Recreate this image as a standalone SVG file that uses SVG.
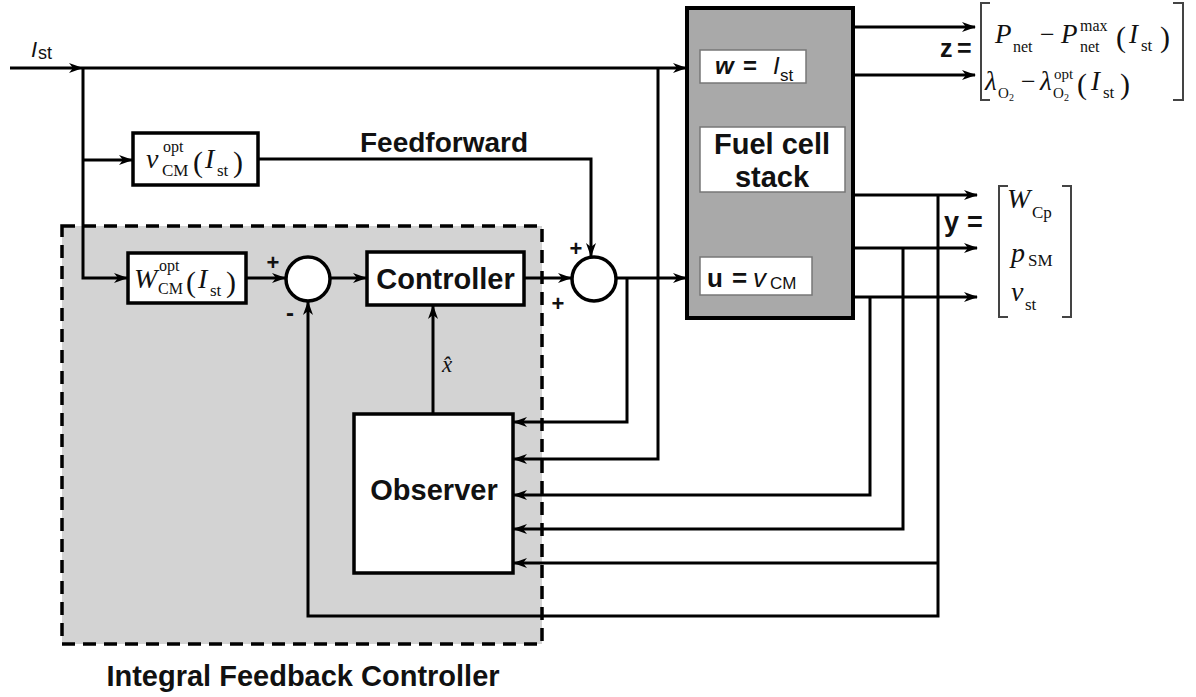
<svg xmlns="http://www.w3.org/2000/svg" width="1196" height="697" viewBox="0 0 1196 697">
<style>
.ln{fill:none;stroke:#000;stroke-width:3;}
.ar{marker-end:url(#ah);}
.box{fill:#fff;stroke:#000;stroke-width:3.5;}
.ibox{fill:#fff;stroke:#777;stroke-width:1.5;}
.b{font-family:"Liberation Sans",Arial,sans-serif;font-weight:bold;fill:#111;}
.s{font-family:"Liberation Sans",Arial,sans-serif;fill:#111;}
.m{font-family:"Liberation Serif","Times New Roman",serif;font-style:italic;fill:#111;}
.r{font-family:"Liberation Serif","Times New Roman",serif;fill:#111;}
.brk{fill:none;stroke:#444;stroke-width:2;}
</style>
<defs>
<marker id="ah" markerUnits="userSpaceOnUse" markerWidth="14" markerHeight="10" refX="13" refY="5" orient="auto">
<path d="M0,0 L14,5 L0,10 L4,5 z" fill="#000"/>
</marker>
</defs>
<rect width="1196" height="697" fill="#fff"/>

<g id="integral-region">
<rect x="62" y="226" width="480" height="418" fill="#d3d3d3" stroke="#000" stroke-width="3.5" stroke-dasharray="13,8"/>
<text class="b" x="303" y="686" font-size="29" text-anchor="middle">Integral Feedback Controller</text>
</g>

<g id="connectors">
<path class="ln ar" d="M10,68 H82"/>
<path class="ln ar" d="M82,68 H686"/>
<path class="ln ar" d="M83,68 V278 H127"/>
<path class="ln ar" d="M83,160 H132"/>
<path class="ln ar" d="M258,159 H591 V256"/>
<path class="ln ar" d="M246,278 H285"/>
<path class="ln ar" d="M330,278 H366"/>
<path class="ln ar" d="M524,278 H571"/>
<path class="ln ar" d="M616,278 H686"/>
<path class="ln ar" d="M627,278 V422 H514"/>
<path class="ln ar" d="M658,68 V459 H514"/>
<path class="ln ar" d="M853,27 H975"/>
<path class="ln ar" d="M853,75 H975"/>
<path class="ln ar" d="M853,195 H977"/>
<path class="ln ar" d="M853,248 H977"/>
<path class="ln ar" d="M853,297 H977"/>
<path class="ln ar" d="M938,195 V616 H308 V302"/>
<path class="ln ar" d="M938,563 H514"/>
<path class="ln ar" d="M903,248 V529 H514"/>
<path class="ln ar" d="M870,297 V495 H514"/>
<path class="ln ar" d="M433,414 V306"/>
</g>

<g id="input-label">
<text class="s" x="31" y="57" font-size="22" font-style="italic">I</text>
<text class="s" x="38" y="59" font-size="18">st</text>
</g>

<g id="feedforward-label">
<text class="b" x="360" y="152" font-size="28">Feedforward</text>
</g>

<g id="vcm-opt">
<rect class="box" x="133" y="133" width="125" height="52"/>
<text class="m" x="146" y="168" font-size="28">v</text>
<text class="r" x="163" y="152" font-size="16">opt</text>
<text class="r" x="162" y="176" font-size="17">CM</text>
<text class="r" x="193" y="172" font-size="30">(</text>
<text class="m" x="205" y="168" font-size="28">I</text>
<text class="r" x="217" y="176" font-size="17">st</text>
<text class="r" x="233" y="172" font-size="30">)</text>
</g>

<g id="wcm-opt">
<rect class="box" x="128" y="253" width="118" height="50"/>
<text class="m" x="134" y="288" font-size="28">W</text>
<text class="r" x="159" y="271" font-size="16">opt</text>
<text class="r" x="158" y="294" font-size="16">CM</text>
<text class="r" x="186" y="292" font-size="30">(</text>
<text class="m" x="198" y="288" font-size="28">I</text>
<text class="r" x="210" y="296" font-size="17">st</text>
<text class="r" x="226" y="292" font-size="30">)</text>
</g>

<g id="sum1">
<circle cx="308" cy="279" r="22" fill="#fff" stroke="#000" stroke-width="3.5"/>
<text class="b" x="273" y="270" font-size="22" text-anchor="middle">+</text>
<text class="b" x="290" y="321" font-size="24" text-anchor="middle">-</text>
</g>

<g id="controller">
<rect class="box" x="367" y="252" width="157" height="53"/>
<text class="b" x="445.5" y="289" font-size="29" text-anchor="middle">Controller</text>
</g>

<g id="sum2">
<circle cx="594" cy="279" r="22" fill="#fff" stroke="#000" stroke-width="3.5"/>
<text class="b" x="576" y="256" font-size="22" text-anchor="middle">+</text>
<text class="b" x="558" y="311" font-size="22" text-anchor="middle">+</text>
</g>

<g id="observer">
<rect class="box" x="354" y="414" width="159" height="159"/>
<text class="b" x="434" y="500" font-size="29" text-anchor="middle">Observer</text>
</g>

<g id="xhat-label">
<text class="m" x="442" y="372" font-size="23">x̂</text>
</g>

<g id="fuel-cell-stack">
<rect x="687" y="8" width="166" height="310" fill="#a9a9a9" stroke="#000" stroke-width="4"/>
<rect class="ibox" x="700" y="50" width="106" height="33"/>
<text class="b" x="715" y="74" font-size="24" font-style="italic">w</text>
<text class="b" x="743" y="74" font-size="24">=</text>
<text class="s" x="773" y="74" font-size="24" font-style="italic">I</text>
<text class="s" x="780" y="81" font-size="17">st</text>
<rect class="ibox" x="700" y="127" width="145" height="65"/>
<text class="b" x="772" y="154" font-size="29" text-anchor="middle">Fuel cell</text>
<text class="b" x="772" y="187" font-size="29" text-anchor="middle">stack</text>
<rect class="ibox" x="700" y="257" width="112" height="38"/>
<text class="b" x="707" y="287" font-size="26">u</text>
<text class="b" x="732" y="287" font-size="26">=</text>
<text class="s" x="753" y="287" font-size="26" font-style="italic">v</text>
<text class="s" x="770" y="289" font-size="17">CM</text>
</g>

<g id="z-vector">
<text class="b" x="940" y="57" font-size="25">z</text>
<text class="b" x="957" y="57" font-size="25">=</text>
<path class="brk" d="M990,3 H981 V100 H990"/>
<path class="brk" d="M1173,3 H1183 V100 H1173"/>
<text class="m" x="995" y="43" font-size="27">P</text>
<text class="r" x="1013" y="52" font-size="16">net</text>
<text class="r" x="1040" y="43" font-size="26">−</text>
<text class="m" x="1061" y="43" font-size="27">P</text>
<text class="r" x="1080" y="31" font-size="16">max</text>
<text class="r" x="1080" y="52" font-size="16">net</text>
<text class="r" x="1116" y="47" font-size="30">(</text>
<text class="m" x="1129" y="43" font-size="27">I</text>
<text class="r" x="1141" y="51" font-size="17">st</text>
<text class="r" x="1160" y="47" font-size="30">)</text>
<text class="m" x="985" y="90" font-size="27">λ</text>
<text class="r" x="998" y="98" font-size="15">O</text>
<text class="r" x="1009" y="101" font-size="10">2</text>
<text class="r" x="1021" y="90" font-size="26">−</text>
<text class="m" x="1040" y="90" font-size="27">λ</text>
<text class="r" x="1054" y="79" font-size="15">opt</text>
<text class="r" x="1053" y="98" font-size="15">O</text>
<text class="r" x="1064" y="101" font-size="10">2</text>
<text class="r" x="1077" y="94" font-size="30">(</text>
<text class="m" x="1091" y="90" font-size="27">I</text>
<text class="r" x="1103" y="98" font-size="17">st</text>
<text class="r" x="1120" y="94" font-size="30">)</text>
</g>

<g id="y-vector">
<text class="b" x="944" y="231" font-size="27">y</text>
<text class="b" x="967" y="231" font-size="27">=</text>
<path class="brk" d="M1008,186 H999 V317 H1008"/>
<path class="brk" d="M1062,186 H1071 V317 H1062"/>
<text class="m" x="1007" y="208" font-size="28">W</text>
<text class="r" x="1032" y="218" font-size="17">Cp</text>
<text class="m" x="1011" y="262" font-size="28">p</text>
<text class="r" x="1028" y="266" font-size="17">SM</text>
<text class="m" x="1011" y="301" font-size="28">v</text>
<text class="r" x="1025" y="310" font-size="17">st</text>
</g>
</svg>
